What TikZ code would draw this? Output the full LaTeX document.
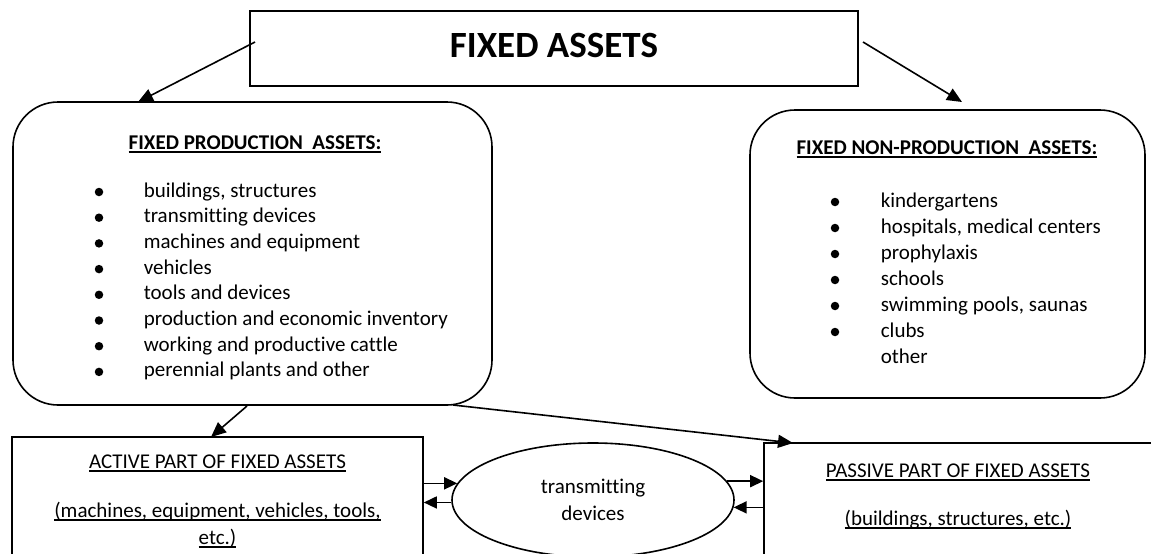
\documentclass[tikz,border=0pt]{standalone}
\usepackage{fontspec}
\setmainfont[Ligatures={NoCommon}]{Carlito}
\usetikzlibrary{arrows.meta,shapes.geometric}
\newcommand\ulin[1]{\leavevmode\setbox0\hbox{#1}\rlap{\rule[-3.5pt]{\wd0}{1.3pt}}\box0}
\begin{document}
\begin{tikzpicture}[x=1pt, y=-1pt, line width=1.6pt,
	every node/.style={font=\fontsize{21}{26}\selectfont, inner sep=0pt},
	box/.style={draw},
	rbox/.style={draw, rounded corners=45pt},
	dot/.style={circle, fill, minimum size=8.5pt},
	arr/.style={-{Triangle[length=15pt, width=13pt]}},
	darr/.style={-{Triangle[length=13pt, width=12pt]}}]
	\useasboundingbox (0,0) rectangle (1151,554);
	\clip (0,0) rectangle (1151,554);
	% boxes
	\node[box, minimum width=608, minimum height=75] (fa) at (554,48.5) {};
	\node[anchor=base, font=\bfseries\fontsize{37}{44}\selectfont] (fat) at (554,57) {FIXED ASSETS};
	\node[rbox, minimum width=479, minimum height=303] (fpa) at (252.5,253.5) {};
	\node[rbox, minimum width=395, minimum height=288] (fnpa) at (947.5,254) {};
	\node[box, minimum width=411, minimum height=163] (apa) at (217.5,518.5) {};
	\node[box, minimum width=388, minimum height=157] (ppa) at (958,521.5) {};
	\node[draw, ellipse, minimum width=282, minimum height=114, align=center,
		font=\fontsize{21}{27}\selectfont] (td) at (593,500) {transmitting\\devices};
	% headings
	\node[anchor=base, font=\bfseries\fontsize{21}{26}\selectfont] (fpah) at (255,149) {\ulin{FIXED PRODUCTION\ \ ASSETS:}};
	\node[anchor=base, font=\bfseries\fontsize{21}{26}\selectfont] (fnpah) at (947,154) {\ulin{FIXED NON-PRODUCTION\ \ ASSETS:}};
	% lists
	\foreach \t [count=\i] in {{buildings, structures}, transmitting devices, machines and equipment, vehicles,
		tools and devices, production and economic inventory, working and productive cattle, perennial plants and other} {
		\node[dot] (fpab\i) at (99,192+25.7*\i-25.7) {};
		\node[anchor=base west] (fpai\i) at (143,197+25.7*\i-25.7) {\t};
	}
	\foreach \t [count=\i] in {kindergartens, {hospitals, medical centers}, prophylaxis, schools,
		{swimming pools, saunas}, clubs} {
		\node[dot] (fnpab\i) at (835,202+26*\i-26) {};
		\node[anchor=base west] (fnpai\i) at (880,207+26*\i-26) {\t};
	}
	\node[anchor=base west] (fnpai7) at (880,363) {other};
	% bottom texts
	\node[anchor=base] (apat) at (217.5,468) {\ulin{ACTIVE PART OF FIXED ASSETS}};
	\node[anchor=base] (apad) at (217.5,517) {\ulin{(machines, equipment, vehicles, tools,}};
	\node[anchor=base] (apae) at (217.5,544) {\ulin{etc.)}};
	\node[anchor=base] (ppat) at (958,477) {\ulin{PASSIVE PART OF FIXED ASSETS}};
	\node[anchor=base] (ppad) at (958,525) {\ulin{(buildings, structures, etc.)}};
	% arrow ends
	\coordinate (fa-l) at (255,42);
	\coordinate (fa-r) at (863,42);
	\coordinate (fpa-t) at (138,102);
	\coordinate (fnpa-t) at (962,102);
	\coordinate (fpa-b) at (247,406);
	\coordinate (fpa-c) at (453,405);
	\coordinate (apa-t) at (211,437);
	\coordinate (ppa-t) at (793,443);
	% arrows
	\draw[arr] (fa-l) -- (fpa-t);
	\draw[arr] (fa-r) -- (fnpa-t);
	\draw[arr] (fpa-b) -- (apa-t);
	\draw[arr] (fpa-c) -- (ppa-t);
	\draw[darr] (apa.east |- td.173) -- (td.173);
	\draw[darr] (td.181) -- (apa.east |- td.181);
	\draw[darr] (td.8) -- (ppa.west |- td.8);
	\draw[darr] (ppa.west |- td.-3) -- (td.-3);
\end{tikzpicture}
\end{document}
